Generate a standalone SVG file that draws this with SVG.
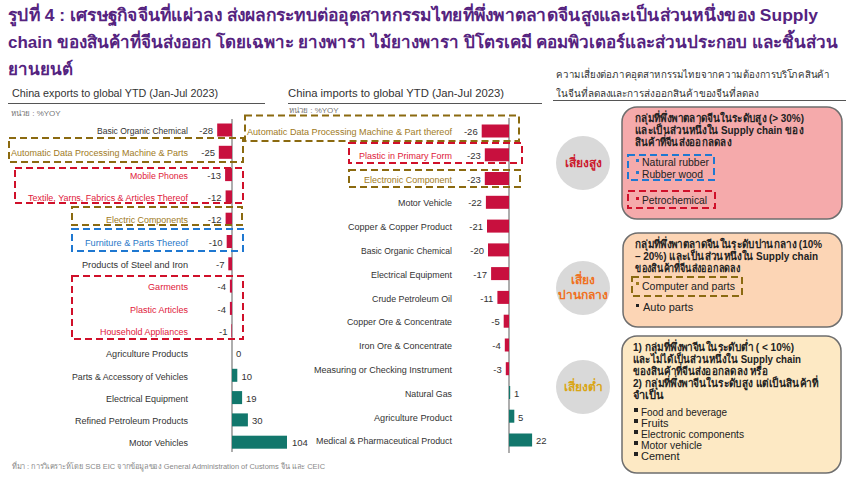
<svg xmlns="http://www.w3.org/2000/svg" width="850" height="480" viewBox="0 0 850 480">
<style>
text{font-family:"Liberation Sans","Noto Sans",sans-serif}
.title{font-size:17px;font-weight:bold;fill:#55237f}
.sub{font-size:11px;fill:#333}
.rt{font-size:10px;fill:#333}
.unit{font-size:8px;fill:#777}
.lbl{font-size:9.2px;fill:#333;text-anchor:end}
.val{font-size:9.5px;fill:#333}
.ve{text-anchor:end}
.brn{fill:#a07a1c}
.red{fill:#e0203a}
.blu{fill:#2a78c8}
.neg{fill:#c8103e}
.pos{fill:#12776c}
.axis{stroke:#777;stroke-width:1.2}
.rule{stroke:#555;stroke-width:1}
.db{fill:none;stroke:#8b6a10;stroke-width:2;stroke-dasharray:7 4}
.dr{fill:none;stroke:#d0102a;stroke-width:2;stroke-dasharray:7 4}
.dl{fill:none;stroke:#1f78d1;stroke-width:2;stroke-dasharray:7 4}
.box{stroke:#6e6e6e;stroke-width:1.5}
.head{font-size:11px;font-weight:bold;fill:#222}
.item{font-size:11px;fill:#222}
.circ{fill:#d9d9d9}
.risk{font-size:12px;font-weight:bold;text-anchor:middle}
.foot{font-size:8px;fill:#888}
</style>

<g id="title">
<text class="title" x="8" y="21" textLength="810" lengthAdjust="spacingAndGlyphs">รูปที่ 4 : เศรษฐกิจจีนที่แผ่วลง ส่งผลกระทบต่ออุตสาหกรรมไทยที่พึ่งพาตลาดจีนสูงและเป็นส่วนหนึ่งของ Supply</text>
<text class="title" x="8" y="48" textLength="830" lengthAdjust="spacingAndGlyphs">chain ของสินค้าที่จีนส่งออก โดยเฉพาะ ยางพารา ไม้ยางพารา ปิโตรเคมี คอมพิวเตอร์และส่วนประกอบ และชิ้นส่วน</text>
<text class="title" x="8" y="75">ยานยนต์</text>
</g>

<!-- Left chart -->
<g id="exports-chart">
<text class="sub" x="12" y="97" textLength="206" lengthAdjust="spacingAndGlyphs">China exports to global YTD (Jan-Jul 2023)</text>
<line class="rule" x1="8" y1="103.5" x2="265" y2="103.5"/>
<text class="unit" x="11" y="116">หน่วย : %YOY</text>
<line class="axis" x1="232" y1="119" x2="232" y2="452"/>

<g id="ex-basic-organic"><text class="lbl" x="188" y="134" textLength="91" lengthAdjust="spacingAndGlyphs">Basic Organic Chemical</text><rect class="neg" x="217.2" y="123.5" width="14.8" height="13"/><text class="val ve" x="213" y="134">-28</text></g>
<g id="ex-adp"><text class="lbl brn" x="188" y="156" textLength="177" lengthAdjust="spacingAndGlyphs">Automatic Data Processing Machine &amp; Parts</text><rect class="neg" x="218.8" y="145.8" width="13.2" height="13"/><text class="val ve" x="215" y="156">-25</text></g>
<g id="ex-mobile"><text class="lbl red" x="188" y="178.5" textLength="58" lengthAdjust="spacingAndGlyphs">Mobile Phones</text><rect class="neg" x="225.1" y="168.1" width="6.9" height="13"/><text class="val ve" x="221" y="178.5">-13</text></g>
<g id="ex-textile"><text class="lbl red" x="188" y="201" textLength="160" lengthAdjust="spacingAndGlyphs">Textile, Yarns, Fabrics &amp; Articles Thereof</text><rect class="neg" x="225.6" y="190.4" width="6.4" height="13"/><text class="val ve" x="221.5" y="201">-12</text></g>
<g id="ex-electric-comp"><text class="lbl brn" x="188" y="223" textLength="82" lengthAdjust="spacingAndGlyphs">Electric Components</text><rect class="neg" x="225.6" y="212.7" width="6.4" height="13"/><text class="val ve" x="221.5" y="223">-12</text></g>
<g id="ex-furniture"><text class="lbl blu" x="188" y="245.5" textLength="103" lengthAdjust="spacingAndGlyphs">Furniture &amp; Parts Thereof</text><rect class="neg" x="226.7" y="235" width="5.3" height="13"/><text class="val ve" x="222.5" y="245.5">-10</text></g>
<g id="ex-steel"><text class="lbl" x="188" y="268" textLength="106" lengthAdjust="spacingAndGlyphs">Products of Steel and Iron</text><rect class="neg" x="228.3" y="257.3" width="3.7" height="13"/><text class="val ve" x="224.5" y="268">-7</text></g>
<g id="ex-garments"><text class="lbl red" x="188" y="290" textLength="40" lengthAdjust="spacingAndGlyphs">Garments</text><rect class="neg" x="229.9" y="279.6" width="2.1" height="13"/><text class="val ve" x="226" y="290">-4</text></g>
<g id="ex-plastic"><text class="lbl red" x="188" y="312.5" textLength="58" lengthAdjust="spacingAndGlyphs">Plastic Articles</text><rect class="neg" x="229.9" y="301.9" width="2.1" height="13"/><text class="val ve" x="226" y="312.5">-4</text></g>
<g id="ex-household"><text class="lbl red" x="188" y="334.5" textLength="88" lengthAdjust="spacingAndGlyphs">Household Appliances</text><rect class="neg" x="231.4" y="324.2" width="0.6" height="13"/><text class="val ve" x="227.5" y="334.5">-1</text></g>
<g id="ex-agri"><text class="lbl" x="188" y="357" textLength="82" lengthAdjust="spacingAndGlyphs">Agriculture Products</text><text class="val" x="236" y="357">0</text></g>
<g id="ex-parts-vehicles"><text class="lbl" x="188" y="379.5" textLength="116" lengthAdjust="spacingAndGlyphs">Parts &amp; Accessory of Vehicles</text><rect class="pos" x="232" y="368.8" width="5.3" height="13"/><text class="val" x="241.5" y="379.5">10</text></g>
<g id="ex-electrical"><text class="lbl" x="188" y="401.5" textLength="82" lengthAdjust="spacingAndGlyphs">Electrical Equipment</text><rect class="pos" x="232" y="391.1" width="10.1" height="13"/><text class="val" x="246" y="401.5">19</text></g>
<g id="ex-refined"><text class="lbl" x="188" y="424" textLength="113" lengthAdjust="spacingAndGlyphs">Refined Petroleum Products</text><rect class="pos" x="232" y="413.4" width="15.9" height="13"/><text class="val" x="252" y="424">30</text></g>
<g id="ex-motor"><text class="lbl" x="188" y="446" textLength="59" lengthAdjust="spacingAndGlyphs">Motor Vehicles</text><rect class="pos" x="232" y="435.7" width="55" height="13"/><text class="val" x="292" y="446">104</text></g>
</g>

<!-- Middle chart -->
<g id="imports-chart">
<text class="sub" x="288" y="97" textLength="216" lengthAdjust="spacingAndGlyphs">China imports to global YTD (Jan-Jul 2023)</text>
<line class="rule" x1="288" y1="103.5" x2="542" y2="103.5"/>
<text class="unit" x="289" y="113">หน่วย : %YOY</text>
<line class="axis" x1="509" y1="118" x2="509" y2="453"/>

<g id="im-adp"><text class="lbl brn" x="452" y="135" textLength="205" lengthAdjust="spacingAndGlyphs">Automatic Data Processing Machine &amp; Part thereof</text><rect class="neg" x="481.7" y="124.5" width="27.3" height="13"/><text class="val ve" x="477.7" y="135">-26</text></g>
<g id="im-plastic"><text class="lbl red" x="452" y="158.5" textLength="93" lengthAdjust="spacingAndGlyphs">Plastic in Primary Form</text><rect class="neg" x="484.8" y="148.3" width="24.2" height="13"/><text class="val ve" x="480.8" y="158.5">-23</text></g>
<g id="im-electronic"><text class="lbl brn" x="452" y="182.5" textLength="88" lengthAdjust="spacingAndGlyphs">Electronic Component</text><rect class="neg" x="484.8" y="172" width="24.2" height="13"/><text class="val ve" x="480.8" y="182.5">-23</text></g>
<g id="im-motor"><text class="lbl" x="452" y="206" textLength="54" lengthAdjust="spacingAndGlyphs">Motor Vehicle</text><rect class="neg" x="485.9" y="195.8" width="23.1" height="13"/><text class="val ve" x="481.9" y="206">-22</text></g>
<g id="im-copper"><text class="lbl" x="452" y="230" textLength="104" lengthAdjust="spacingAndGlyphs">Copper &amp; Copper Product</text><rect class="neg" x="487" y="219.6" width="22" height="13"/><text class="val ve" x="483" y="230">-21</text></g>
<g id="im-basic-organic"><text class="lbl" x="452" y="254" textLength="91" lengthAdjust="spacingAndGlyphs">Basic Organic Chemical</text><rect class="neg" x="488" y="243.4" width="21" height="13"/><text class="val ve" x="484" y="254">-20</text></g>
<g id="im-electrical"><text class="lbl" x="452" y="277.5" textLength="81" lengthAdjust="spacingAndGlyphs">Electrical Equipment</text><rect class="neg" x="491.1" y="267.1" width="17.9" height="13"/><text class="val ve" x="487.1" y="277.5">-17</text></g>
<g id="im-crude"><text class="lbl" x="452" y="301.5" textLength="80" lengthAdjust="spacingAndGlyphs">Crude Petroleum Oil</text><rect class="neg" x="497.4" y="290.9" width="11.6" height="13"/><text class="val ve" x="493.4" y="301.5">-11</text></g>
<g id="im-copper-ore"><text class="lbl" x="452" y="325" textLength="105" lengthAdjust="spacingAndGlyphs">Copper Ore &amp; Concentrate</text><rect class="neg" x="503.7" y="314.7" width="5.3" height="13"/><text class="val ve" x="499.7" y="325">-5</text></g>
<g id="im-iron-ore"><text class="lbl" x="452" y="349" textLength="93" lengthAdjust="spacingAndGlyphs">Iron Ore &amp; Concentrate</text><rect class="neg" x="504.8" y="338.5" width="4.2" height="13"/><text class="val ve" x="500.8" y="349">-4</text></g>
<g id="im-measuring"><text class="lbl" x="452" y="373" textLength="138" lengthAdjust="spacingAndGlyphs">Measuring or Checking Instrument</text><rect class="neg" x="505.8" y="362.2" width="3.2" height="13"/><text class="val ve" x="501.8" y="373">-3</text></g>
<g id="im-gas"><text class="lbl" x="452" y="396.5" textLength="47" lengthAdjust="spacingAndGlyphs">Natural Gas</text><rect class="pos" x="509" y="386" width="1.2" height="13"/><text class="val" x="514" y="396.5">1</text></g>
<g id="im-agri"><text class="lbl" x="452" y="420.5" textLength="78" lengthAdjust="spacingAndGlyphs">Agriculture Product</text><rect class="pos" x="509" y="409.7" width="5.3" height="13"/><text class="val" x="518" y="420.5">5</text></g>
<g id="im-medical"><text class="lbl" x="452" y="444" textLength="136" lengthAdjust="spacingAndGlyphs">Medical &amp; Pharmaceutical Product</text><rect class="pos" x="509" y="433.5" width="23.1" height="13"/><text class="val" x="536" y="444">22</text></g>
</g>

<!-- Dashed highlight boxes -->
<g id="highlights">
<rect class="db" x="9" y="138" width="234" height="24"/>
<rect class="dr" x="15" y="168" width="228" height="35"/>
<rect class="db" x="72" y="207" width="170" height="18"/>
<rect class="dl" x="72" y="229" width="171" height="22"/>
<rect class="dr" x="72" y="276" width="171" height="63"/>
<rect class="db" x="245" y="115.5" width="274" height="25.5"/>
<rect class="dr" x="349" y="143" width="173" height="20"/>
<rect class="db" x="349" y="170" width="171" height="17"/>
</g>

<!-- Right panel -->
<g id="risk-panel-title">
<text class="rt" x="556" y="78" textLength="274" lengthAdjust="spacingAndGlyphs">ความเสี่ยงต่อภาคอุตสาหกรรมไทยจากความต้องการบริโภคสินค้า</text>
<text class="rt" x="556" y="97" textLength="203" lengthAdjust="spacingAndGlyphs">ในจีนที่ลดลงและการส่งออกสินค้าของจีนที่ลดลง</text>
<line class="rule" x1="553" y1="100.5" x2="846" y2="100.5"/>
</g>

<g id="risk-high">
<circle class="circ" cx="583" cy="163" r="27"/>
<text class="risk" x="583" y="167" fill="#cc1a2e">เสี่ยงสูง</text>
<rect class="box" x="622" y="107" width="220" height="112" rx="15" fill="#f5aaab"/>
<text class="head" x="635" y="122" textLength="169" lengthAdjust="spacingAndGlyphs">กลุ่มที่พึ่งพาตลาดจีนในระดับสูง (&gt; 30%)</text>
<text class="head" x="635" y="134" textLength="168" lengthAdjust="spacingAndGlyphs">และเป็นส่วนหนึ่งใน Supply chain ของ</text>
<text class="head" x="635" y="146" textLength="96" lengthAdjust="spacingAndGlyphs">สินค้าที่จีนส่งออกลดลง</text>
<rect class="dl" x="628" y="155" width="86" height="25"/>
<rect x="636" y="159" width="3" height="3" fill="#2a78c8"/>
<text class="item blu" x="642" y="166" textLength="67" lengthAdjust="spacingAndGlyphs">Natural rubber</text>
<rect x="636" y="171" width="3" height="3" fill="#2a78c8"/>
<text class="item blu" x="642" y="178" textLength="61" lengthAdjust="spacingAndGlyphs">Rubber wood</text>
<rect class="dr" x="628" y="191" width="87" height="17"/>
<rect x="636" y="197" width="3" height="3" fill="#d0102a"/>
<text class="item red" x="642" y="204" textLength="65" lengthAdjust="spacingAndGlyphs">Petrochemical</text>
</g>

<g id="risk-medium">
<circle class="circ" cx="583" cy="288" r="27"/>
<text class="risk" x="583" y="284" fill="#f07020">เสี่ยง</text>
<text class="risk" x="583" y="299" fill="#f07020">ปานกลาง</text>
<rect class="box" x="623" y="233" width="219" height="94" rx="15" fill="#fcd5b5"/>
<text class="head" x="635" y="248" textLength="187" lengthAdjust="spacingAndGlyphs">กลุ่มที่พึ่งพาตลาดจีนในระดับปานกลาง (10%</text>
<text class="head" x="635" y="260" textLength="183" lengthAdjust="spacingAndGlyphs">– 20%) และเป็นส่วนหนึ่งใน Supply chain</text>
<text class="head" x="635" y="272" textLength="105" lengthAdjust="spacingAndGlyphs">ของสินค้าที่จีนส่งออกลดลง</text>
<rect class="db" x="632" y="277" width="110" height="19"/>
<rect x="636" y="282" width="3" height="3" fill="#a07a1c"/>
<text class="item brn" x="642" y="290" textLength="93" lengthAdjust="spacingAndGlyphs">Computer and parts</text>
<rect x="636" y="304" width="3" height="3" fill="#222"/>
<text class="item" x="643" y="311">Auto parts</text>
</g>

<g id="risk-low">
<circle class="circ" cx="583" cy="387" r="27"/>
<text class="risk" x="583" y="391" fill="#d9a514">เสี่ยงต่ำ</text>
<rect class="box" x="622" y="336" width="219" height="137" rx="15" fill="#fde9c4"/>
<text class="head" x="633" y="351" textLength="161" lengthAdjust="spacingAndGlyphs">1) กลุ่มที่พึ่งพาจีนในระดับต่ำ ( &lt; 10%)</text>
<text class="head" x="633" y="363" textLength="168" lengthAdjust="spacingAndGlyphs">และไม่ได้เป็นส่วนหนึ่งใน Supply chain</text>
<text class="head" x="633" y="375" textLength="135" lengthAdjust="spacingAndGlyphs">ของสินค้าที่จีนส่งออกลดลง หรือ</text>
<text class="head" x="633" y="387" textLength="185" lengthAdjust="spacingAndGlyphs">2) กลุ่มที่พึ่งพาจีนในระดับสูง แต่เป็นสินค้าที่</text>
<text class="head" x="633" y="399">จำเป็น</text>
<rect x="634" y="408" width="4" height="4" fill="#222"/>
<text class="item" x="641" y="416" textLength="86" lengthAdjust="spacingAndGlyphs">Food and beverage</text>
<rect x="634" y="419" width="4" height="4" fill="#222"/>
<text class="item" x="641" y="427">Fruits</text>
<rect x="634" y="430" width="4" height="4" fill="#222"/>
<text class="item" x="641" y="438" textLength="103" lengthAdjust="spacingAndGlyphs">Electronic components</text>
<rect x="634" y="441" width="4" height="4" fill="#222"/>
<text class="item" x="641" y="449" textLength="61" lengthAdjust="spacingAndGlyphs">Motor vehicle</text>
<rect x="634" y="452" width="4" height="4" fill="#222"/>
<text class="item" x="641" y="460">Cement</text>
</g>

<g id="footer">
<text class="foot" x="12" y="469" textLength="313" lengthAdjust="spacingAndGlyphs">ที่มา : การวิเคราะห์โดย SCB EIC จากข้อมูลของ General Administration of Customs จีน และ CEIC</text>
</g>
</svg>
